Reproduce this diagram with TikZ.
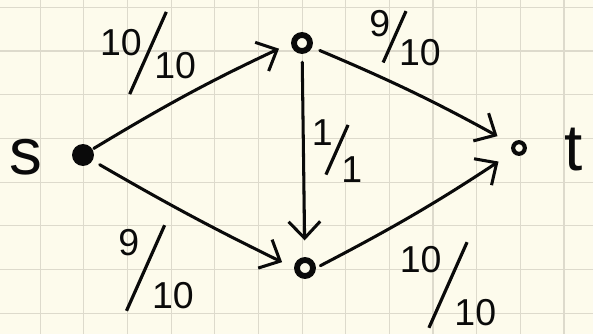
\documentclass[tikz,border=0pt]{standalone}
\usepackage{fontspec}
\setmainfont{Liberation Sans}
\usepackage{graphicx}
\usepackage{tikz}
\usetikzlibrary{arrows.meta}
\definecolor{paper}{RGB}{253, 251, 236}
\definecolor{gridline}{RGB}{221, 218, 204}
\definecolor{ink}{RGB}{10, 10, 10}

% hand-written style fraction: #1 raise, #2 slash length (em), #3 flow, #4 capacity
\newcommand{\flowfrac}[4]{%
  \raisebox{#1}{#3}\kern-\dimexpr#2em*15/100\relax
  \raisebox{\dimexpr0.36em-#2em*457/1000\relax}{\rotatebox{66}{\rule{#2em}{0.085em}}}%
  \kern-\dimexpr#2em*15/100\relax
  \raisebox{-#1}{#4}}

\tikzset{
  vertex/.style={circle, draw=ink, line width=5pt, fill=paper, inner sep=0pt, minimum size=0.48cm},
  flow/.style={ink, line width=2.6pt, line cap=round,
    -{Straight Barb[length=0.5cm, width=0.95cm]},
    shorten <=0.25cm, shorten >=0.5cm},
  flowtext/.style={text=ink, inner sep=0pt, font=\fontsize{32}{32}\selectfont},
  vname/.style={text=ink, inner sep=0pt, font=\fontsize{56}{56}\selectfont}
}

\begin{document}
\begin{tikzpicture}[x=0.03cm, y=-0.03cm]
    % Paper
    \fill[paper] (0,0) rectangle (593,334);
    \useasboundingbox (0,0) rectangle (593,334);
    \foreach \i in {0,...,12}
        \draw[gridline, line width=1pt] ({40.2+43.65*\i},0) -- ({40.2+43.65*\i},334);
    \foreach \j in {0,...,7}
        \draw[gridline, line width=1pt] (0,{7.3+43.7*\j}) -- (593,{7.3+43.7*\j});

    % Vertices
    \node[vertex, fill=ink] (s) at (83,155) {};
    \node[vertex] (u) at (302,43) {};
    \node[vertex] (v) at (305,268) {};
    \node[vertex, line width=3.5pt, minimum size=0.35cm] (t) at (519,148) {};
    \node[vname] (s-name) at (26,157) {s};
    \node[vname] (t-name) at (574,150) {t};

    % Edges
    \draw[flow, shorten <=0.05cm, shorten >=0.4cm] (s) to[bend left=3] (u.west);
    \draw[flow] (u) to[bend left=3] (t);
    \draw[flow] (u) -- (v);
    \draw[flow, shorten >=0.4cm] (s) to[bend right=2] (v.west);
    \draw[flow, shorten <=0.15cm] (v.east) to[bend right=3] (t);

    % Flow / capacity
    \node[flowtext] (su-flow) at (148,53) {\flowfrac{0.31em}{2.4}{10}{10}};
    \node[flowtext] (ut-flow) at (405,38) {\flowfrac{0.38em}{1.5}{9}{10}};
    \node[flowtext] (uv-flow) at (337,151) {\flowfrac{0.5em}{1.45}{1}{1}};
    \node[flowtext] (sv-flow) at (156,268) {\flowfrac{0.7em}{2.5}{9}{10}};
    \node[flowtext] (vt-flow) at (448,285) {\flowfrac{0.7em}{2.5}{10}{10}};
\end{tikzpicture}
\end{document}
